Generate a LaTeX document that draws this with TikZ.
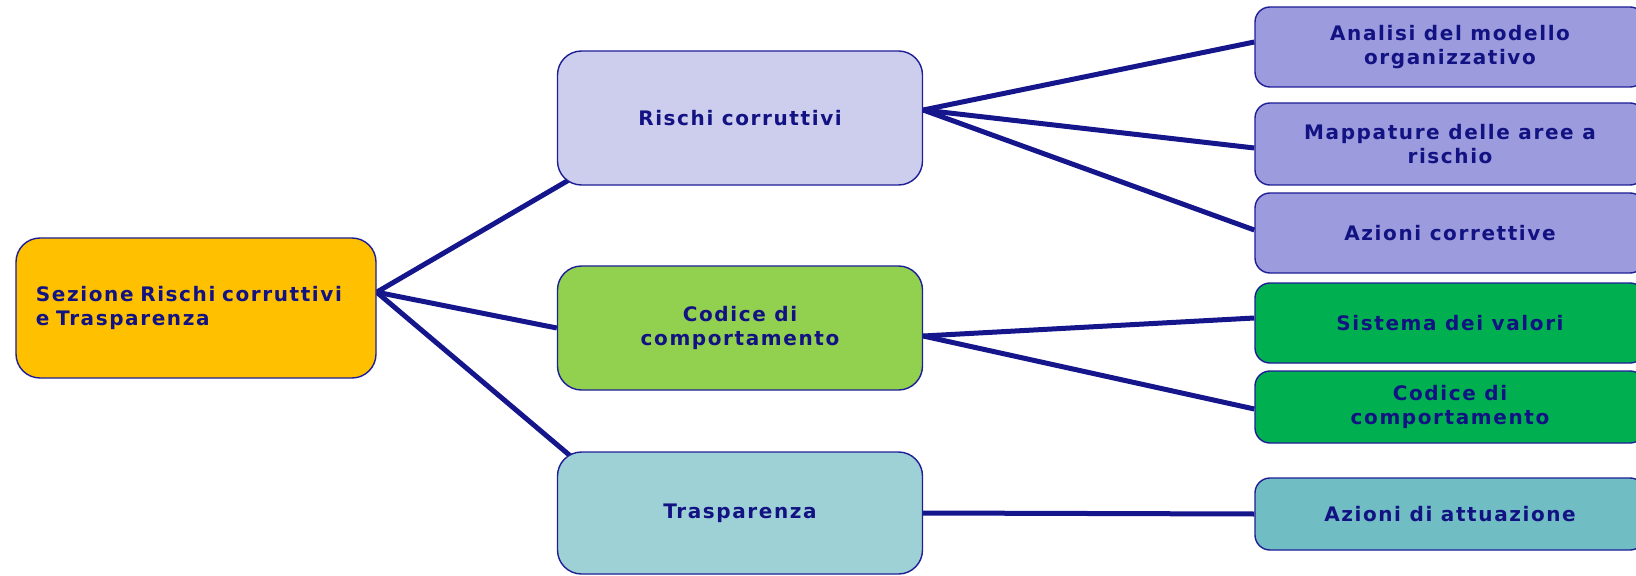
\documentclass[tikz,border=0pt]{standalone}
\usepackage{fontspec}
\newfontfamily\boxfont[LetterSpace=8]{DejaVu Sans}
\usetikzlibrary{backgrounds}
\definecolor{txtnavy}{RGB}{18,18,130}
\definecolor{boxline}{RGB}{30,30,150}
\definecolor{linknavy}{RGB}{22,22,140}
\definecolor{rootfill}{HTML}{FFC000}
\definecolor{rischifill}{HTML}{CDCDEE}
\definecolor{leafblue}{HTML}{9B9BDD}
\definecolor{codicefill}{HTML}{92D050}
\definecolor{leafgreen}{HTML}{00B050}
\definecolor{traspfill}{HTML}{9ED1D6}
\definecolor{leafteal}{HTML}{70BDC4}
\begin{document}
\begin{tikzpicture}[x=1bp,y=-1bp,
    box/.style={draw=boxline,line width=1.4bp,rounded corners=24bp,text=txtnavy,align=center,inner sep=0pt,
      font=\boxfont\bfseries\fontsize{20bp}{24bp}\selectfont},
    midbox/.style={box,minimum width=365bp},
    leafbox/.style={box,rounded corners=15bp,minimum width=390bp},
    link/.style={draw=linknavy,line width=5bp}]
    \useasboundingbox (0,0) rectangle (1636,576);
    \clip (0,0) rectangle (1636,576);
    % root
    \node[box,fill=rootfill,minimum width=360bp,minimum height=140bp,text width=320bp,align=left] (root) at (196,308) {Sezione Rischi corruttivi\\e Trasparenza};
    % second level
    \node[midbox,fill=rischifill,minimum height=134bp] (rischi) at (740,118) {Rischi corruttivi};
    \node[midbox,fill=codicefill,minimum height=124bp] (codice) at (740,328) {Codice di\\comportamento};
    \node[midbox,fill=traspfill,minimum height=122bp] (trasp) at (740,513) {Trasparenza};
    % leaves
    \node[leafbox,fill=leafblue,minimum height=80bp] (analisi) at (1450,47) {Analisi del modello\\organizzativo};
    \node[leafbox,fill=leafblue,minimum height=82bp] (mappe) at (1450,144) {Mappature delle aree a\\rischio};
    \node[leafbox,fill=leafblue,minimum height=80bp] (correttive) at (1450,233) {Azioni correttive};
    \node[leafbox,fill=leafgreen,minimum height=80bp] (valori) at (1450,323) {Sistema dei valori};
    \node[leafbox,fill=leafgreen,minimum height=72bp] (codiceleaf) at (1450,407) {Codice di\\comportamento};
    \node[leafbox,fill=leafteal,minimum height=72bp] (attuazione) at (1450,514) {Azioni di attuazione};
    % links
    \begin{scope}[on background layer]
        \draw[link] (root.5) -- ([shift={(16,-8)}]rischi.south west);
        \draw[link] (root.5) -- (codice.west);
        \draw[link] (root.5) -- ([shift={(14,5)}]trasp.north west);
        \draw[link] ([yshift=8bp]rischi.east) -- ([yshift=5bp]analisi.west);
        \draw[link] ([yshift=8bp]rischi.east) -- ([yshift=-4bp]mappe.west);
        \draw[link] ([yshift=8bp]rischi.east) -- ([yshift=3bp]correttive.west);
        \draw[link] ([yshift=-8bp]codice.east) -- ([yshift=5bp]valori.west);
        \draw[link] ([yshift=-8bp]codice.east) -- ([yshift=-2bp]codiceleaf.west);
        \draw[link] (trasp.east) -- (attuazione.west);
    \end{scope}
\end{tikzpicture}
\end{document}
